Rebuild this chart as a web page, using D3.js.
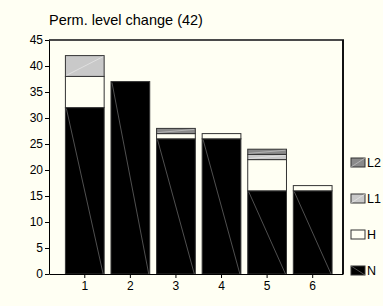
<!DOCTYPE html>
<html>
<head>
<meta charset="utf-8">
<script src="https://cdn.jsdelivr.net/npm/d3@7"></script>
<style>
  html, body { margin: 0; padding: 0; background: #fffff3; }
  svg { display: block; font-family: 'Liberation Sans', Arial, sans-serif; }
  .axis path, .axis line { stroke: #000; }
  .axis text { font-size: 12px; fill: #000; }
</style>
</head>
<body>
<script>
;(function() {
  'use strict';

  // chart values
  var categories = ['1', '2', '3', '4', '5', '6'];
  var nVals  = [32, 37, 26, 26, 16, 16];
  var hVals  = [6, 0, 1, 1, 6, 1];
  var l1Vals = [4, 0, 0, 0, 1, 0];
  var l2Vals = [0, 0, 1, 0, 1, 0];
  var seriesKeys = ['N', 'H', 'L1', 'L2'];
  var yTicks = [0, 5, 10, 15, 20, 25, 30, 35, 40, 45];
  var title = 'Perm. level change (42)';

  var width = 383, height = 306;
  var left = 49, right = 343, top = 40, bottom = 274;

  var fills = { N: '#000000', H: '#fffff3', L1: '#c9c9c9', L2: '#8a8a8a' };
  var diag  = { N: '#858585', H: 'none', L1: '#efefef', L2: '#cfcfcf' };

  var rows = categories.map(function(c, i) {
    return { cat: c, N: nVals[i], H: hVals[i], L1: l1Vals[i], L2: l2Vals[i] };
  });

  var svg = d3.select('body').append('svg')
    .attr('width', width)
    .attr('height', height);

  var x = d3.scaleBand()
    .domain(categories)
    .range([left, right])
    .paddingInner(0.15)
    .paddingOuter(0.3)
    .align(0.6);

  var y = d3.scaleLinear()
    .domain([0, 45])
    .range([bottom, top]);

  var stack = d3.stack().keys(seriesKeys);
  var layers = stack(rows);

  // title
  svg.append('text')
    .attr('x', left)
    .attr('y', 25)
    .style('font-size', '14.5px')
    .text(title);

  // bars
  var layer = svg.append('g').attr('class', 'bars')
    .selectAll('g')
    .data(layers)
    .enter().append('g');

  var seg = layer.selectAll('g')
    .data(function(d) {
      return d.map(function(p) { return { key: d.key, y0: p[0], y1: p[1], cat: p.data.cat }; })
        .filter(function(p) { return p.y1 > p.y0; });
    })
    .enter().append('g');

  seg.append('rect')
    .attr('x', function(d) { return x(d.cat); })
    .attr('y', function(d) { return y(d.y1); })
    .attr('width', x.bandwidth())
    .attr('height', function(d) { return y(d.y0) - y(d.y1); })
    .attr('fill', function(d) { return fills[d.key]; })
    .attr('stroke', '#333')
    .attr('stroke-width', 1);

  // the thin diagonal streak seen inside each filled segment
  seg.filter(function(d) { return diag[d.key] !== 'none'; })
    .append('line')
    .attr('x1', function(d) { return x(d.cat) + 1; })
    .attr('x2', function(d) { return x(d.cat) + x.bandwidth() - 1; })
    .attr('y1', function(d) { return d.key === 'N' ? y(d.y1) + 1 : y(d.y0) - 1; })
    .attr('y2', function(d) { return d.key === 'N' ? y(d.y0) : y(d.y1) + 1; })
    .attr('stroke', function(d) { return diag[d.key]; })
    .attr('stroke-width', 0.6);

  // frame
  svg.append('line')
    .attr('x1', left).attr('x2', right + 1)
    .attr('y1', top).attr('y2', top)
    .attr('stroke', '#4a4a4a').attr('stroke-width', 2);
  svg.append('line')
    .attr('x1', right).attr('x2', right)
    .attr('y1', top).attr('y2', bottom)
    .attr('stroke', '#111').attr('stroke-width', 2);

  // axes
  svg.append('g')
    .attr('class', 'axis')
    .attr('transform', 'translate(' + left + ',0)')
    .call(d3.axisLeft(y).tickValues(yTicks).tickSize(4).tickSizeOuter(0).tickPadding(2));

  svg.append('g')
    .attr('class', 'axis')
    .attr('transform', 'translate(0,' + bottom + ')')
    .call(d3.axisBottom(x).tickSize(4).tickSizeOuter(0).tickPadding(3));

  // legend, top to bottom L2, L1, H, N
  var legendKeys = seriesKeys.slice().reverse();
  var leg = svg.append('g').attr('class', 'legend')
    .selectAll('g')
    .data(legendKeys)
    .enter().append('g')
    .attr('transform', function(d, i) { return 'translate(351,' + (158 + i * 36) + ')'; });

  leg.append('rect')
    .attr('width', 14)
    .attr('height', 9)
    .attr('fill', function(d) { return fills[d]; })
    .attr('stroke', '#333');

  leg.filter(function(d) { return diag[d] !== 'none'; })
    .append('line')
    .attr('x1', 0).attr('y1', function(d) { return d === 'N' ? 0 : 9; })
    .attr('x2', 14).attr('y2', function(d) { return d === 'N' ? 9 : 0; })
    .attr('stroke', function(d) { return diag[d]; })
    .attr('stroke-width', 0.6);

  leg.append('text')
    .attr('x', 16)
    .attr('y', 5)
    .attr('dy', '0.35em')
    .style('font-size', '12.5px')
    .text(function(d) { return d; });
})();
</script>
</body>
</html>
